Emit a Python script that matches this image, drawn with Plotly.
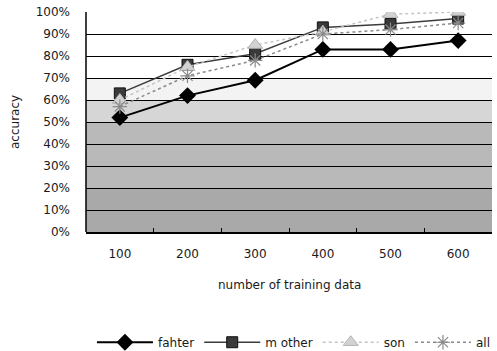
import plotly.graph_objects as go

categories = ["100", "200", "300", "400", "500", "600"]
fahter = [0.52, 0.62, 0.69, 0.83, 0.83, 0.87]
mother = [0.63, 0.76, 0.81, 0.93, 0.945, 0.97]
son = [0.60, 0.75, 0.85, 0.91, 0.99, 1.00]
all_ = [0.57, 0.71, 0.78, 0.90, 0.92, 0.95]
y_ticks = [i / 10 for i in range(11)]
y_labels = [f"{i * 10}%" for i in range(11)]

FONT = "DejaVu Sans"
FS = 12
fig = go.Figure()

fig.add_trace(go.Scatter(x=categories, y=fahter, name="fahter", mode="lines+markers",
                         line=dict(color="#000000", width=2),
                         marker=dict(symbol="diamond", size=13, color="#000000")))
fig.add_trace(go.Scatter(x=categories, y=mother, name="m other", mode="lines+markers",
                         line=dict(color="#3c3c3c", width=1.5),
                         marker=dict(symbol="square", size=11, color="#3a3a3a",
                                     line=dict(color="#111111", width=1))))
fig.add_trace(go.Scatter(x=categories, y=son, name="son", mode="lines+markers",
                         line=dict(color="#c4c4c4", width=1.5, dash="dot"),
                         marker=dict(symbol="triangle-up", size=13, color="#d2d2d2",
                                     line=dict(color="#b4b4b4", width=1))))
fig.add_trace(go.Scatter(x=categories, y=all_, name="all", mode="lines+markers",
                         line=dict(color="#8a8a8a", width=1.5, dash="dot"),
                         marker=dict(symbol="asterisk-open", size=12,
                                     line=dict(color="#8a8a8a", width=1.2))))

# background bands
bands = [(0.0, 0.2, "#a9a9a9"), (0.2, 0.5, "#b9b9b9"), (0.5, 0.6, "#d6d6d6"), (0.6, 0.7, "#f3f3f3")]
shapes = [dict(type="rect", xref="paper", yref="y", x0=0, x1=1, y0=a, y1=b,
               fillcolor=c, line=dict(width=0), layer="below") for a, b, c in bands]
shapes.append(dict(type="line", xref="paper", yref="paper", x0=0, x1=0, y0=0, y1=1,
                   line=dict(color="#000000", width=1.5)))

fig.update_layout(
    width=497, height=351,
    margin=dict(l=86, r=5, t=12, b=119),
    paper_bgcolor="white", plot_bgcolor="white",
    font=dict(family=FONT, size=FS, color="#1a1a1a"),
    shapes=shapes,
    showlegend=True,
    legend=dict(orientation="h", xref="container", yref="container",
                x=0.185, y=0.025, xanchor="left", yanchor="middle",
                itemwidth=56, font=dict(size=FS),
                bgcolor="rgba(0,0,0,0)", tracegroupgap=0),
    annotations=[
        dict(text="accuracy", xref="paper", yref="paper", x=0, y=0.5,
             xanchor="center", yanchor="middle", xshift=-71, textangle=-90,
             showarrow=False, font=dict(size=FS)),
        dict(text="number of training data", xref="paper", yref="paper", x=0.5, y=0,
             xanchor="center", yanchor="middle", yshift=-53, showarrow=False,
             font=dict(size=FS)),
    ],
)
fig.update_xaxes(type="category", showgrid=False, showline=True, linecolor="#000000",
                 linewidth=1.5, ticks="inside", tickson="boundaries", ticklen=4,
                 tickcolor="#000000", ticklabelstandoff=10, range=[-0.5, 5.5])
fig.update_yaxes(range=[0, 1], tickvals=y_ticks, ticktext=y_labels, showgrid=True,
                 gridcolor="#000000", gridwidth=1, zeroline=False, showline=False,
                 ticks="", ticklabelstandoff=15)

fig.write_html("out.html")
